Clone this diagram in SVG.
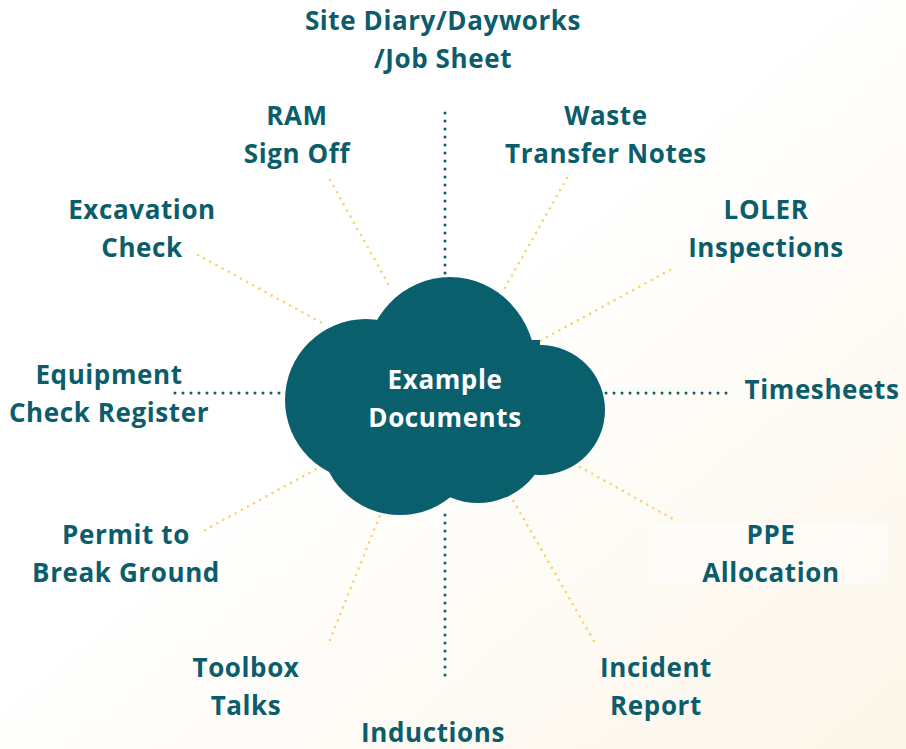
<svg xmlns="http://www.w3.org/2000/svg" width="906" height="749" viewBox="0 0 906 749">
<style>
.lbl{font-family:"Open Sans",Lato,sans-serif;font-weight:700;font-size:26px;letter-spacing:0.6px;fill:#0b5d6b;text-anchor:middle}
.ctr{font-family:"Open Sans",Lato,sans-serif;font-weight:700;font-size:26px;letter-spacing:0.6px;fill:#ffffff;text-anchor:middle}
.teal{stroke:#0b5d6b;stroke-width:3;stroke-linecap:round;stroke-dasharray:0 8;fill:none}
.gold{stroke:#f6d465;stroke-width:2.6;stroke-linecap:round;stroke-dasharray:0 7;fill:none}
</style>
<defs>
<linearGradient id="bg" x1="0" y1="0" x2="1" y2="1">
<stop offset="0.45" stop-color="#ffffff"/>
<stop offset="1" stop-color="#fcf6e9"/>
</linearGradient>
</defs>
<rect width="906" height="749" fill="url(#bg)"/>
<rect x="650" y="523" width="237" height="60" fill="#ffffff" opacity="0.45"/>
<g id="connectors">
<line class="teal" x1="445" y1="113" x2="445" y2="277"/>
<line class="teal" x1="445" y1="515" x2="445" y2="680"/>
<line class="teal" x1="175" y1="393" x2="285" y2="393"/>
<line class="teal" x1="606" y1="393" x2="728" y2="393"/>
<line class="gold" x1="330" y1="180" x2="390" y2="287"/>
<line class="gold" x1="567" y1="178" x2="502" y2="293"/>
<line class="gold" x1="198" y1="255" x2="322" y2="323"/>
<line class="gold" x1="670" y1="270" x2="538" y2="342"/>
<line class="gold" x1="205" y1="530" x2="320" y2="467"/>
<line class="gold" x1="580" y1="467" x2="675" y2="520"/>
<line class="gold" x1="330" y1="640" x2="380" y2="515"/>
<line class="gold" x1="510" y1="495" x2="595" y2="643"/>
</g>
<g id="center" fill="#0a5f6d">
<ellipse cx="450" cy="368" rx="86" ry="91"/>
<circle cx="366" cy="400" r="81"/>
<circle cx="540" cy="410" r="65"/>
<circle cx="400" cy="435" r="80"/>
<circle cx="478" cy="432" r="71"/>
<rect x="380" y="340" width="160" height="120"/>
<text class="ctr" x="445" y="389">Example</text>
<text class="ctr" x="445" y="427">Documents</text>
</g>
<g id="site-diary"><text class="lbl" x="443" y="30">Site Diary/Dayworks</text><text class="lbl" x="443" y="68">/Job Sheet</text></g>
<g id="ram"><text class="lbl" x="297" y="125">RAM</text><text class="lbl" x="297" y="163">Sign Off</text></g>
<g id="waste"><text class="lbl" x="606" y="125">Waste</text><text class="lbl" x="606" y="163">Transfer Notes</text></g>
<g id="excavation"><text class="lbl" x="142" y="219">Excavation</text><text class="lbl" x="142" y="257">Check</text></g>
<g id="loler"><text class="lbl" x="766" y="219">LOLER</text><text class="lbl" x="766" y="257">Inspections</text></g>
<g id="equipment"><text class="lbl" x="109" y="384">Equipment</text><text class="lbl" x="109" y="422">Check Register</text></g>
<g id="timesheets"><text class="lbl" x="822" y="399">Timesheets</text></g>
<g id="permit"><text class="lbl" x="126" y="544">Permit to</text><text class="lbl" x="126" y="582">Break Ground</text></g>
<g id="ppe"><text class="lbl" x="771" y="544">PPE</text><text class="lbl" x="771" y="582">Allocation</text></g>
<g id="toolbox"><text class="lbl" x="246" y="677">Toolbox</text><text class="lbl" x="246" y="715">Talks</text></g>
<g id="incident"><text class="lbl" x="656" y="677">Incident</text><text class="lbl" x="656" y="715">Report</text></g>
<g id="inductions"><text class="lbl" x="433" y="742">Inductions</text></g>
</svg>
